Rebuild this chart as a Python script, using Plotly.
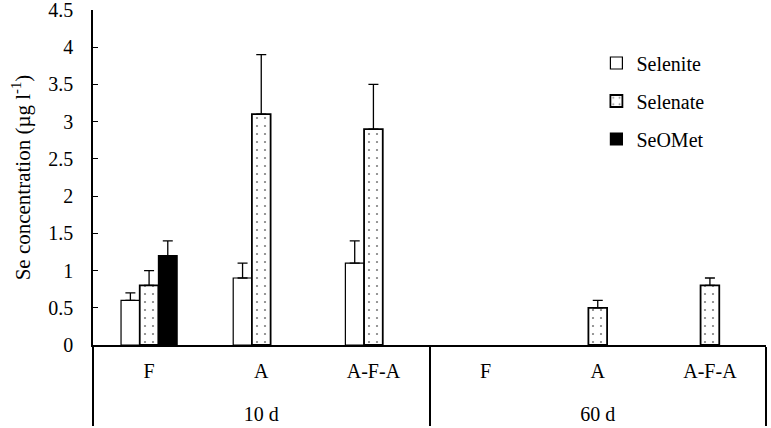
import plotly.graph_objects as go

periods = ["<br>10 d", "<br>10 d", "<br>10 d", "<br>60 d", "<br>60 d", "<br>60 d"]
treatments = ["F", "A", "A-F-A", "F", "A", "A-F-A"]

selenite = [0.6, 0.9, 1.1, None, None, None]
selenite_err = [0.1, 0.2, 0.3, None, None, None]
selenate = [0.8, 3.1, 2.9, None, 0.5, 0.8]
selenate_err = [0.2, 0.8, 0.6, None, 0.1, 0.1]
seomet = [1.2, None, None, None, None, None]
seomet_err = [0.2, None, None, None, None, None]

y_ticks = [0, 0.5, 1, 1.5, 2, 2.5, 3, 3.5, 4, 4.5]
y_tick_text = ["0", "0.5", "1", "1.5", "2", "2.5", "3", "3.5", "4", "4.5"]

FONT = "Liberation Serif"

def err(vals):
    return dict(type="data", symmetric=False, array=vals,
                arrayminus=[0] * len(vals), color="black", thickness=1.3, width=5)

fig = go.Figure()
fig.add_trace(go.Bar(
    name="Selenite", x=[periods, treatments], y=selenite, error_y=err(selenite_err),
    marker=dict(color="white", line=dict(color="black", width=1.2)),
    legendgroup="a"))
fig.add_trace(go.Bar(
    name="Selenate", x=[periods, treatments], y=selenate, error_y=err(selenate_err),
    marker=dict(color="white", line=dict(color="black", width=1.8),
                pattern=dict(shape=".", fgcolor="black", bgcolor="white",
                             size=8, solidity=0.06)),
    legendgroup="b"))
fig.add_trace(go.Bar(
    name="SeOMet", x=[periods, treatments], y=seomet, error_y=err(seomet_err),
    marker=dict(color="black", line=dict(color="black", width=1.2)),
    legendgroup="c"))

fig.update_layout(
    width=771, height=435,
    margin=dict(l=93, r=5, t=17, b=83),
    paper_bgcolor="white", plot_bgcolor="white",
    barmode="group", bargap=0.5, bargroupgap=0,
    font=dict(family=FONT, size=20, color="black"),
    showlegend=True,
    legend=dict(x=0.748, y=0.90, xanchor="left", yanchor="top",
                font=dict(family=FONT, size=20, color="black"),
                tracegroupgap=9, bgcolor="rgba(0,0,0,0)",
                itemwidth=30),
    xaxis=dict(type="multicategory", showline=True, linecolor="black", linewidth=1.5,
               ticks="", showdividers=True, dividercolor="black", dividerwidth=1.5,
               tickfont=dict(family=FONT, size=20, color="black"),
               ticklabelstandoff=7, automargin=False,
               range=[-0.5, 5.5], showgrid=False, zeroline=False),
    yaxis=dict(range=[0, 4.5], tickvals=y_ticks, ticktext=y_tick_text,
               showline=True, linecolor="black", linewidth=1.5,
               ticks="inside", ticklen=5, tickcolor="black", tickwidth=1.3,
               showgrid=False, zeroline=False, automargin=True,
               ticklabelstandoff=14,
               tickfont=dict(family=FONT, size=20, color="black"),
               title=dict(text="Se concentration (µg l<sup>-1</sup>)",
                          font=dict(family=FONT, size=21, color="black"),
                          standoff=12)),
)

fig.write_html("out.html", config={"displayModeBar": False},
               post_script="document.body.style.margin='0';document.body.style.padding='0';"
                           "document.body.style.marginTop='-7px';document.body.style.overflow='hidden';")
